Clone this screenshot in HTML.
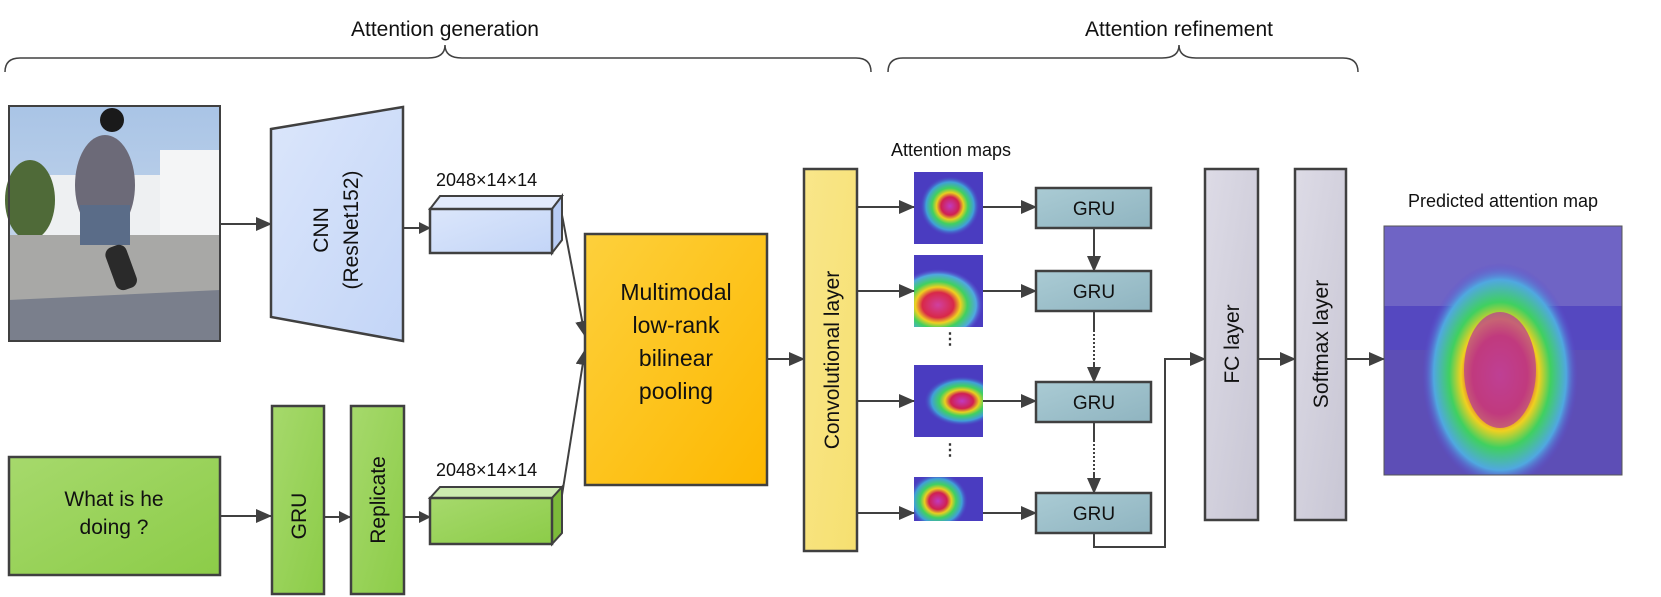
<!DOCTYPE html>
<html><head><meta charset="utf-8"><style>
html,body{margin:0;padding:0;background:#fff;}
svg{display:block;font-family:"Liberation Sans",sans-serif;}
</style></head><body>
<svg width="1661" height="597" viewBox="0 0 1661 597" xmlns="http://www.w3.org/2000/svg">
<defs>
<marker id="ar" markerWidth="12" markerHeight="12" refX="11" refY="6" orient="auto" markerUnits="userSpaceOnUse"><path d="M0,0 L12,6 L0,12 z" fill="#404040"/></marker>
<marker id="ab" markerWidth="16" markerHeight="14" refX="15" refY="7" orient="auto" markerUnits="userSpaceOnUse"><path d="M0,0 L16,7 L0,14 z" fill="#404040"/></marker>
<linearGradient id="blue" x1="0" y1="0" x2="1" y2="1"><stop offset="0" stop-color="#dbe6fb"/><stop offset="1" stop-color="#c3d5f7"/></linearGradient>
<linearGradient id="green" x1="0" y1="0" x2="1" y2="1"><stop offset="0" stop-color="#a6d96c"/><stop offset="1" stop-color="#8ccc48"/></linearGradient>
<linearGradient id="orange" x1="0" y1="0" x2="1" y2="1"><stop offset="0" stop-color="#fdd03c"/><stop offset="1" stop-color="#fdb800"/></linearGradient>
<linearGradient id="yellow" x1="0" y1="0" x2="1" y2="1"><stop offset="0" stop-color="#f9e68a"/><stop offset="1" stop-color="#f6e070"/></linearGradient>
<linearGradient id="gru" x1="0" y1="0" x2="1" y2="1"><stop offset="0" stop-color="#aacbd4"/><stop offset="1" stop-color="#8fb4c0"/></linearGradient>
<linearGradient id="grey" x1="0" y1="0" x2="1" y2="1"><stop offset="0" stop-color="#dddbe6"/><stop offset="1" stop-color="#c8c6d4"/></linearGradient>
<linearGradient id="sky" x1="0" y1="0" x2="0" y2="1"><stop offset="0" stop-color="#a9c4e6"/><stop offset="1" stop-color="#d4e0ee"/></linearGradient>
<radialGradient id="heat"><stop offset="0" stop-color="#c03ac0"/><stop offset="0.3" stop-color="#d02050"/><stop offset="0.45" stop-color="#e8d020"/><stop offset="0.6" stop-color="#40d060"/><stop offset="0.8" stop-color="#40a0d8"/><stop offset="1" stop-color="#4a3cc0" stop-opacity="0"/></radialGradient>
<radialGradient id="heat2"><stop offset="0" stop-color="#d040a0"/><stop offset="0.35" stop-color="#d82848"/><stop offset="0.5" stop-color="#f0d020"/><stop offset="0.65" stop-color="#40d060"/><stop offset="0.85" stop-color="#50a8e0"/><stop offset="1" stop-color="#5b4ad0" stop-opacity="0"/></radialGradient>
<clipPath id="c1"><rect x="914" y="172" width="69" height="72"/></clipPath>
<clipPath id="c2"><rect x="914" y="255" width="69" height="72"/></clipPath>
<clipPath id="c3"><rect x="914" y="365" width="69" height="72"/></clipPath>
<clipPath id="c4"><rect x="914" y="477" width="69" height="44"/></clipPath>
<clipPath id="c5"><rect x="1384" y="226" width="238" height="249"/></clipPath>
</defs>

<!-- braces -->
<g fill="none" stroke="#404040" stroke-width="1.5">
<path d="M5,72 Q5,58 20,58 L428,58 Q445,58 445,45 Q445,58 462,58 L856,58 Q871,58 871,72"/>
<path d="M888,72 Q888,58 903,58 L1162,58 Q1179,58 1179,45 Q1179,58 1196,58 L1343,58 Q1358,58 1358,72"/>
</g>
<text x="445" y="36" font-size="21" text-anchor="middle" fill="#111">Attention generation</text>
<text x="1179" y="36" font-size="21" text-anchor="middle" fill="#111">Attention refinement</text>

<!-- photo -->
<g>
<rect x="9" y="106" width="211" height="235" fill="url(#sky)"/>
<rect x="40" y="175" width="180" height="70" fill="#eef0f2"/>
<rect x="160" y="150" width="60" height="95" fill="#f4f5f6"/>
<ellipse cx="30" cy="200" rx="25" ry="40" fill="#4f6a38"/>
<rect x="9" y="235" width="211" height="106" fill="#a8a8a6"/>
<polygon points="9,300 220,290 220,341 9,341" fill="#7a7f8c"/>
<ellipse cx="105" cy="185" rx="30" ry="50" fill="#6c6a78"/>
<circle cx="112" cy="120" r="12" fill="#1a1a1a"/>
<rect x="80" y="205" width="50" height="40" fill="#5a6c88"/>
<rect x="110" y="245" width="22" height="45" rx="8" fill="#2a2a2a" transform="rotate(-20 121 267)"/>
<rect x="9" y="106" width="211" height="235" fill="none" stroke="#404040" stroke-width="2"/>
</g>
<line x1="220" y1="224" x2="271" y2="224" stroke="#404040" stroke-width="2" marker-end="url(#ab)"/>

<!-- CNN -->
<polygon points="271,129 403,107 403,341 271,317" fill="url(#blue)" stroke="#404040" stroke-width="2.5"/>
<text transform="translate(328,230) rotate(-90)" font-size="21" text-anchor="middle" fill="#111">CNN</text>
<text transform="translate(358,230) rotate(-90)" font-size="21" text-anchor="middle" fill="#111">(ResNet152)</text>
<line x1="403" y1="228" x2="430" y2="228" stroke="#404040" stroke-width="2" marker-end="url(#ar)"/>

<!-- top 3D box -->
<text x="436" y="186" font-size="18" fill="#111">2048×14×14</text>
<polygon points="430,209 440,196 562,196 552,209" fill="#e2eafc" stroke="#404040" stroke-width="2"/>
<polygon points="552,209 562,196 562,240 552,253" fill="#b8ccf4" stroke="#404040" stroke-width="2"/>
<rect x="430" y="209" width="122" height="44" fill="url(#blue)" stroke="#404040" stroke-width="2.5"/>

<!-- question -->
<rect x="9" y="457" width="211" height="118" fill="url(#green)" stroke="#404040" stroke-width="2.5"/>
<text x="114" y="506" font-size="21" text-anchor="middle" fill="#111">What is he</text>
<text x="114" y="534" font-size="21" text-anchor="middle" fill="#111">doing ?</text>
<line x1="220" y1="516" x2="271" y2="516" stroke="#404040" stroke-width="2" marker-end="url(#ab)"/>
<rect x="272" y="406" width="52" height="188" fill="url(#green)" stroke="#404040" stroke-width="2.5"/>
<text transform="translate(306,516) rotate(-90)" font-size="21" text-anchor="middle" fill="#111">GRU</text>
<line x1="324" y1="517" x2="350" y2="517" stroke="#404040" stroke-width="2" marker-end="url(#ar)"/>
<rect x="351" y="406" width="53" height="188" fill="url(#green)" stroke="#404040" stroke-width="2.5"/>
<text transform="translate(385,500) rotate(-90)" font-size="21" text-anchor="middle" fill="#111">Replicate</text>
<line x1="404" y1="517" x2="430" y2="517" stroke="#404040" stroke-width="2" marker-end="url(#ar)"/>

<!-- bottom 3D box -->
<text x="436" y="476" font-size="18" fill="#111">2048×14×14</text>
<polygon points="430,498 440,487 562,487 552,498" fill="#cdebb0" stroke="#404040" stroke-width="2"/>
<polygon points="552,498 562,487 562,533 552,544" fill="#7cba3a" stroke="#404040" stroke-width="2"/>
<rect x="430" y="498" width="122" height="46" fill="url(#green)" stroke="#404040" stroke-width="2.5"/>

<!-- to MLB -->
<line x1="562" y1="215" x2="585" y2="336" stroke="#404040" stroke-width="2" marker-end="url(#ab)"/>
<line x1="562" y1="495" x2="585" y2="350" stroke="#404040" stroke-width="2" marker-end="url(#ab)"/>

<!-- MLB -->
<rect x="585" y="234" width="182" height="251" fill="url(#orange)" stroke="#404040" stroke-width="2.5"/>
<g font-size="23" text-anchor="middle" fill="#111">
<text x="676" y="300">Multimodal</text>
<text x="676" y="333">low-rank</text>
<text x="676" y="366">bilinear</text>
<text x="676" y="399">pooling</text>
</g>
<line x1="767" y1="359" x2="804" y2="359" stroke="#404040" stroke-width="2" marker-end="url(#ab)"/>

<!-- conv -->
<rect x="804" y="169" width="53" height="382" fill="url(#yellow)" stroke="#404040" stroke-width="2.5"/>
<text transform="translate(839,360) rotate(-90)" font-size="21" text-anchor="middle" fill="#111">Convolutional layer</text>

<text x="951" y="156" font-size="18" text-anchor="middle" fill="#111">Attention maps</text>

<!-- maps -->
<g>
<rect x="914" y="172" width="69" height="72" fill="#4a3cc0"/>
<ellipse cx="950" cy="206" rx="30" ry="30" fill="url(#heat)" clip-path="url(#c1)"/>
<rect x="914" y="255" width="69" height="72" fill="#4a3cc0"/>
<ellipse cx="938" cy="305" rx="45" ry="36" fill="url(#heat2)" clip-path="url(#c2)"/>
<rect x="914" y="365" width="69" height="72" fill="#4a3cc0"/>
<ellipse cx="962" cy="401" rx="38" ry="25" fill="url(#heat)" clip-path="url(#c3)"/>
<rect x="914" y="477" width="69" height="44" fill="#4a3cc0"/>
<ellipse cx="938" cy="501" rx="30" ry="28" fill="url(#heat)" clip-path="url(#c4)"/>
</g>
<g font-size="16" font-weight="bold" text-anchor="middle" fill="#333">
<text x="950" y="344">⋮</text><text x="950" y="455">⋮</text>
</g>

<!-- connectors -->
<g stroke="#404040" stroke-width="2">
<line x1="857" y1="207" x2="914" y2="207" marker-end="url(#ab)"/>
<line x1="857" y1="291" x2="914" y2="291" marker-end="url(#ab)"/>
<line x1="857" y1="401" x2="914" y2="401" marker-end="url(#ab)"/>
<line x1="857" y1="513" x2="914" y2="513" marker-end="url(#ab)"/>
<line x1="983" y1="207" x2="1036" y2="207" marker-end="url(#ab)"/>
<line x1="983" y1="291" x2="1036" y2="291" marker-end="url(#ab)"/>
<line x1="983" y1="401" x2="1036" y2="401" marker-end="url(#ab)"/>
<line x1="983" y1="513" x2="1036" y2="513" marker-end="url(#ab)"/>
<line x1="1094" y1="228" x2="1094" y2="271" marker-end="url(#ab)"/>
<line x1="1094" y1="311" x2="1094" y2="330" />
<line x1="1094" y1="330" x2="1094" y2="362" stroke-dasharray="2,2"/>
<line x1="1094" y1="362" x2="1094" y2="382" marker-end="url(#ab)"/>
<line x1="1094" y1="422" x2="1094" y2="440"/>
<line x1="1094" y1="440" x2="1094" y2="473" stroke-dasharray="2,2"/>
<line x1="1094" y1="473" x2="1094" y2="493" marker-end="url(#ab)"/>
<polyline points="1094,533 1094,547 1165,547 1165,359 1205,359" fill="none" marker-end="url(#ab)"/>
<line x1="1258" y1="359" x2="1295" y2="359" marker-end="url(#ab)"/>
<line x1="1346" y1="359" x2="1384" y2="359" marker-end="url(#ab)"/>
</g>
<g font-size="19" text-anchor="middle" fill="#111">
<rect x="1036" y="188" width="115" height="40" fill="url(#gru)" stroke="#404040" stroke-width="2.5"/><text x="1094" y="215">GRU</text>
<rect x="1036" y="271" width="115" height="40" fill="url(#gru)" stroke="#404040" stroke-width="2.5"/><text x="1094" y="298">GRU</text>
<rect x="1036" y="382" width="115" height="40" fill="url(#gru)" stroke="#404040" stroke-width="2.5"/><text x="1094" y="409">GRU</text>
<rect x="1036" y="493" width="115" height="40" fill="url(#gru)" stroke="#404040" stroke-width="2.5"/><text x="1094" y="520">GRU</text>
</g>

<!-- FC / softmax -->
<rect x="1205" y="169" width="53" height="351" fill="url(#grey)" stroke="#404040" stroke-width="2.5"/>
<text transform="translate(1239,344) rotate(-90)" font-size="21" text-anchor="middle" fill="#111">FC layer</text>
<rect x="1295" y="169" width="51" height="351" fill="url(#grey)" stroke="#404040" stroke-width="2.5"/>
<text transform="translate(1328,344) rotate(-90)" font-size="21" text-anchor="middle" fill="#111">Softmax layer</text>

<!-- predicted -->
<text x="1503" y="207" font-size="18" text-anchor="middle" fill="#111">Predicted attention map</text>
<rect x="1384" y="226" width="238" height="249" fill="#5548c0"/>
<rect x="1384" y="226" width="238" height="80" fill="#7a70c8" opacity="0.7"/>
<rect x="1384" y="350" width="238" height="125" fill="#6858a8" opacity="0.4"/>
<g clip-path="url(#c5)">
<ellipse cx="1500" cy="375" rx="78" ry="112" fill="url(#heat2)"/>
<ellipse cx="1500" cy="370" rx="36" ry="58" fill="#b84090" opacity="0.75"/>
</g>
<rect x="1384" y="226" width="238" height="249" fill="none" stroke="#555" stroke-width="1"/>
</svg>
</body></html>
